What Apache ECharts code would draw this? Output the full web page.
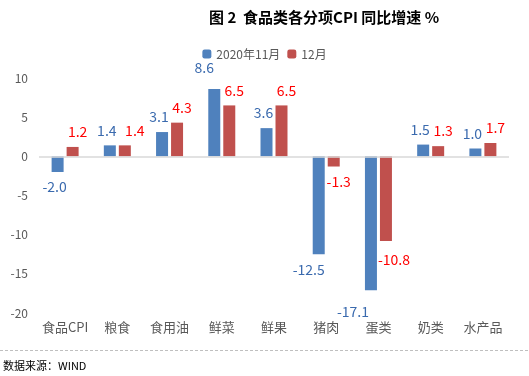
<!DOCTYPE html>
<html>
<head>
<meta charset="utf-8">
<script src="https://cdn.jsdelivr.net/npm/echarts@6/dist/echarts.min.js"></script>
<style>
  html, body { margin: 0; padding: 0; background: #fff; }
  #chart { width: 529px; height: 376px; }
</style>
</head>
<body>
<div id="chart"></div>
<script>
// 食品类各分项CPI同比增速
var categories = ['食品CPI', '粮食', '食用油', '鲜菜', '鲜果', '猪肉', '蛋类', '奶类', '水产品']
var nov = [-2.0, 1.4, 3.1, 8.6, 3.6, -12.5, -17.1, 1.5, 1.0]
var dec = [1.2, 1.4, 4.3, 6.5, 6.5, -1.3, -10.8, 1.3, 1.7]
var seriesNames = ['2020年11月', '12月']

var font = '"Microsoft YaHei", "Noto Sans CJK SC", sans-serif'

// label nudges, like the hand-placed labels in the source
var novNudge = { 3: [-10, -6], 5: [-10, 0], 6: [-18, 6] }
var decNudge = { 1: [10, 0], 6: [8, 4] }

function toData (arr, color, dx, nudge) {
  return arr.map(function (v, i) {
    return {
      value: v,
      label: {
        position: v < 0 ? 'bottom' : 'top',
        color: color,
        offset: nudge[i] || [dx, 0]
      }
    }
  })
}

var chart = echarts.init(document.getElementById('chart'))

chart.setOption({
  animation: false,
  textStyle: { fontFamily: font },
  title: {
    text: '图 2  食品类各分项CPI 同比增速 %',
    left: 204,
    top: 5,
    textStyle: {
      fontFamily: '"Noto Sans CJK SC", serif',
      fontSize: 15,
      fontWeight: 'bold',
      color: '#000'
    }
  },
  legend: {
    data: seriesNames,
    top: 43,
    left: 'center',
    itemWidth: 9,
    itemHeight: 9,
    itemGap: 7,
    textStyle: { fontSize: 12, color: '#595959', fontFamily: font }
  },
  grid: {
    left: 39,
    right: 20,
    top: 78,
    bottom: 63
  },
  xAxis: {
    type: 'category',
    data: categories,
    axisLine: { show: false, onZero: false },
    axisTick: { show: false },
    axisLabel: { color: '#595959', fontSize: 13, margin: 8, interval: 0 }
  },
  yAxis: {
    type: 'value',
    min: -20,
    max: 10,
    interval: 5,
    splitLine: { show: false },
    axisLine: { show: false },
    axisTick: { show: false },
    axisLabel: { color: '#595959', fontSize: 12, margin: 11 }
  },
  series: [
    {
      name: seriesNames[0],
      type: 'bar',
      barWidth: 12,
      barGap: '25%',
      itemStyle: { color: '#4F81BD' },
      label: {
        show: true,
        fontSize: 14,
        distance: 8,
        formatter: function (p) { return p.value.toFixed(1) }
      },
      data: toData(nov, '#3A6AAE', -3, novNudge),
      markLine: {
        silent: true,
        symbol: 'none',
        label: { show: false },
        lineStyle: { color: '#D9D9D9', type: 'solid', width: 1.5 },
        data: [{ yAxis: 0 }]
      }
    },
    {
      name: seriesNames[1],
      type: 'bar',
      barWidth: 12,
      itemStyle: { color: '#C0504D' },
      label: {
        show: true,
        fontSize: 14,
        distance: 8,
        formatter: function (p) { return p.value.toFixed(1) }
      },
      data: toData(dec, '#FF0000', 5, decNudge)
    }
  ],
  graphic: [
    {
      type: 'line',
      shape: { x1: 0, y1: 350.5, x2: 529, y2: 350.5 },
      style: { stroke: '#BFBFBF', lineWidth: 1, lineDash: [3, 2] }
    },
    {
      type: 'text',
      left: 3,
      top: 360,
      style: {
        text: '数据来源：WIND',
        font: '11px "Noto Sans CJK SC", serif',
        fill: '#000'
      }
    }
  ]
})
</script>
</body>
</html>
